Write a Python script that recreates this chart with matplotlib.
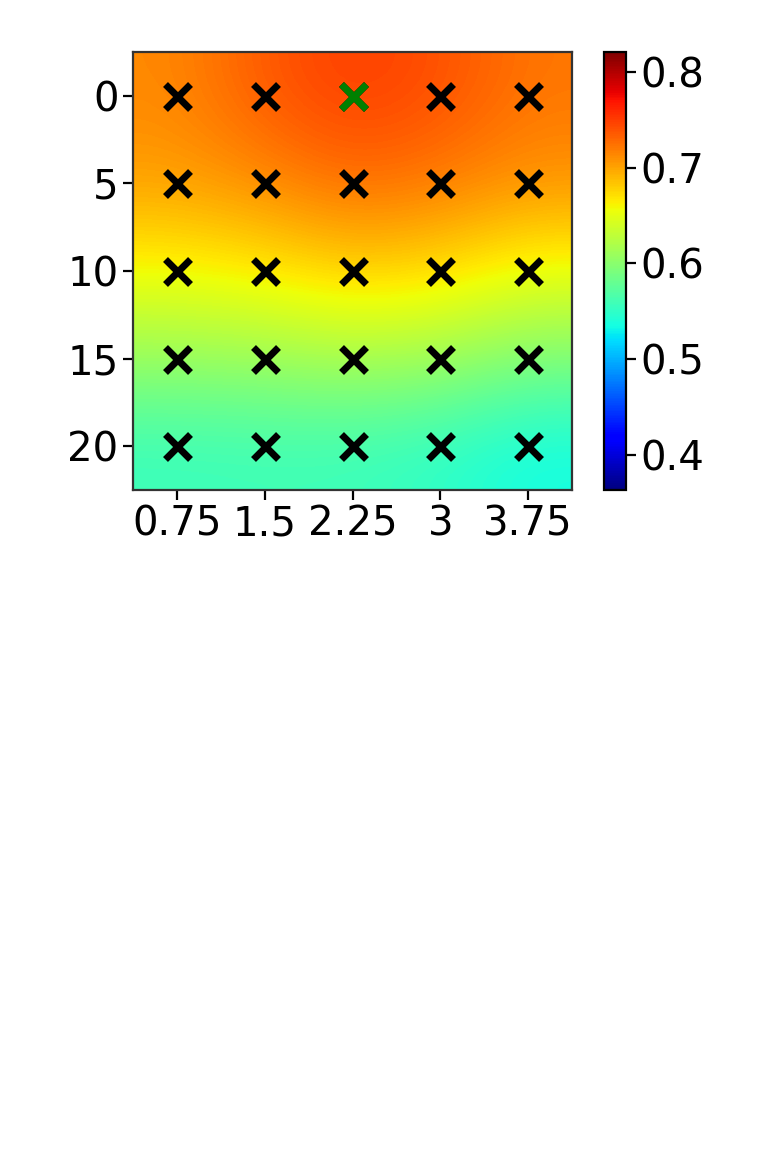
import numpy as np
import matplotlib
matplotlib.use("Agg")
import matplotlib.pyplot as plt

# valores (filas = eje y, columnas = eje x)
x_vals = [0.75, 1.5, 2.25, 3, 3.75]
y_vals = [0, 5, 10, 15, 20]
x_labels = ["0.75", "1.5", "2.25", "3", "3.75"]
valores = [
    [0.713, 0.737, 0.750, 0.741, 0.722],
    [0.702, 0.712, 0.728, 0.720, 0.708],
    [0.658, 0.666, 0.679, 0.673, 0.654],
    [0.608, 0.610, 0.618, 0.612, 0.594],
    [0.556, 0.558, 0.557, 0.550, 0.535],
]
mejor = (2.25, 0)  # punto resaltado en verde
vmin, vmax = 0.363, 0.821

fig = plt.figure(figsize=(7.67, 11.49), dpi=100)
ax = fig.add_axes([0.1734, 0.5735, 0.5724, 0.3812])
cax = fig.add_axes([0.7875, 0.5735, 0.0285, 0.3812])

dx = (x_vals[1] - x_vals[0]) / 2
dy = (y_vals[1] - y_vals[0]) / 2
im = ax.imshow(np.array(valores), cmap="jet", vmin=vmin, vmax=vmax,
               interpolation="bicubic", aspect="auto",
               extent=[x_vals[0] - dx, x_vals[-1] + dx, y_vals[-1] + dy, y_vals[0] - dy])

xx, yy = np.meshgrid(x_vals, y_vals)
ax.plot(xx.ravel(), yy.ravel(), "x", color="black", ms=18, mew=5, ls="none")
ax.plot(mejor[0], mejor[1], "x", color="green", ms=18, mew=5)

ax.set_xticks(x_vals)
ax.set_xticklabels(x_labels)
ax.set_yticks(y_vals)
ax.tick_params(labelsize=29, length=7, width=1.6)
for s in ax.spines.values():
    s.set_linewidth(1.6)
    s.set_color("#333333")

cb = fig.colorbar(im, cax=cax)
cb.set_ticks([0.4, 0.5, 0.6, 0.7, 0.8])
cb.ax.tick_params(labelsize=29, length=7, width=1.6)
cb.outline.set_linewidth(1.6)

fig.savefig("out.png", dpi=100)
